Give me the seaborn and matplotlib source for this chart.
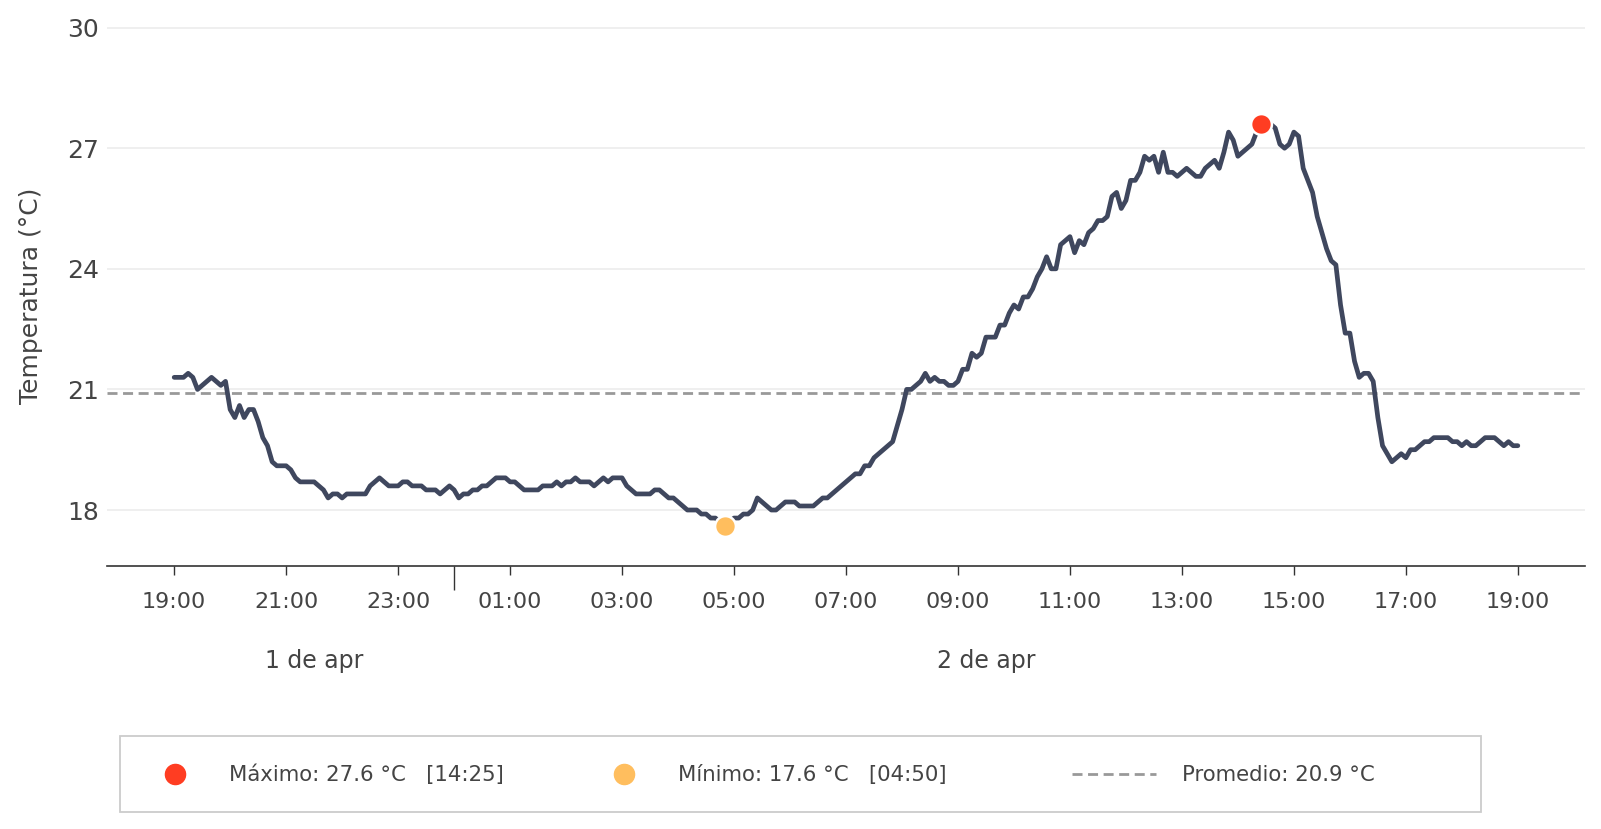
import numpy as np
import pandas as pd
import matplotlib
matplotlib.use("Agg")
import matplotlib.pyplot as plt
import matplotlib.dates as mdates
import matplotlib.transforms as mtransforms
from matplotlib.ticker import FixedLocator
from matplotlib.lines import Line2D
from matplotlib.patches import Rectangle
import seaborn as sns

# ---------------- data (5-minute readings, 1 Apr 19:00 -> 2 Apr 19:00) ----------------
start_time = "2024-04-01 19:00"
t_1900 = [21.3, 21.3, 21.3, 21.4, 21.3, 21.0, 21.1, 21.2, 21.3, 21.2, 21.1, 21.2]
t_2000 = [20.5, 20.3, 20.6, 20.3, 20.5, 20.5, 20.2, 19.8, 19.6, 19.2, 19.1, 19.1]
t_2100 = [19.1, 19.0, 18.8, 18.7, 18.7, 18.7, 18.7, 18.6, 18.5, 18.3, 18.4, 18.4]
t_2200 = [18.3, 18.4, 18.4, 18.4, 18.4, 18.4, 18.6, 18.7, 18.8, 18.7, 18.6, 18.6]
t_2300 = [18.6, 18.7, 18.7, 18.6, 18.6, 18.6, 18.5, 18.5, 18.5, 18.4, 18.5, 18.6]
t_0000 = [18.5, 18.3, 18.4, 18.4, 18.5, 18.5, 18.6, 18.6, 18.7, 18.8, 18.8, 18.8]
t_0100 = [18.7, 18.7, 18.6, 18.5, 18.5, 18.5, 18.5, 18.6, 18.6, 18.6, 18.7, 18.6]
t_0200 = [18.7, 18.7, 18.8, 18.7, 18.7, 18.7, 18.6, 18.7, 18.8, 18.7, 18.8, 18.8]
t_0300 = [18.8, 18.6, 18.5, 18.4, 18.4, 18.4, 18.4, 18.5, 18.5, 18.4, 18.3, 18.3]
t_0400 = [18.2, 18.1, 18.0, 18.0, 18.0, 17.9, 17.9, 17.8, 17.8, 17.7, 17.6, 17.7]
t_0500 = [17.8, 17.8, 17.9, 17.9, 18.0, 18.3, 18.2, 18.1, 18.0, 18.0, 18.1, 18.2]
t_0600 = [18.2, 18.2, 18.1, 18.1, 18.1, 18.1, 18.2, 18.3, 18.3, 18.4, 18.5, 18.6]
t_0700 = [18.7, 18.8, 18.9, 18.9, 19.1, 19.1, 19.3, 19.4, 19.5, 19.6, 19.7, 20.1]
t_0800 = [20.5, 21.0, 21.0, 21.1, 21.2, 21.4, 21.2, 21.3, 21.2, 21.2, 21.1, 21.1]
t_0900 = [21.2, 21.5, 21.5, 21.9, 21.8, 21.9, 22.3, 22.3, 22.3, 22.6, 22.6, 22.9]
t_1000 = [23.1, 23.0, 23.3, 23.3, 23.5, 23.8, 24.0, 24.3, 24.0, 24.0, 24.6, 24.7]
t_1100 = [24.8, 24.4, 24.7, 24.6, 24.9, 25.0, 25.2, 25.2, 25.3, 25.8, 25.9, 25.5]
t_1200 = [25.7, 26.2, 26.2, 26.4, 26.8, 26.7, 26.8, 26.4, 26.9, 26.4, 26.4, 26.3]
t_1300 = [26.4, 26.5, 26.4, 26.3, 26.3, 26.5, 26.6, 26.7, 26.5, 26.9, 27.4, 27.2]
t_1400 = [26.8, 26.9, 27.0, 27.1, 27.4, 27.6, 27.6, 27.6, 27.5, 27.1, 27.0, 27.1]
t_1500 = [27.4, 27.3, 26.5, 26.2, 25.9, 25.3, 24.9, 24.5, 24.2, 24.1, 23.1, 22.4]
t_1600 = [22.4, 21.7, 21.3, 21.4, 21.4, 21.2, 20.3, 19.6, 19.4, 19.2, 19.3, 19.4]
t_1700 = [19.3, 19.5, 19.5, 19.6, 19.7, 19.7, 19.8, 19.8, 19.8, 19.8, 19.7, 19.7]
t_1800 = [19.6, 19.7, 19.6, 19.6, 19.7, 19.8, 19.8, 19.8, 19.7, 19.6, 19.7, 19.6]
t_1900_end = [19.6]

temperatura = (t_1900 + t_2000 + t_2100 + t_2200 + t_2300 + t_0000 + t_0100 + t_0200
               + t_0300 + t_0400 + t_0500 + t_0600 + t_0700 + t_0800 + t_0900 + t_1000
               + t_1100 + t_1200 + t_1300 + t_1400 + t_1500 + t_1600 + t_1700 + t_1800
               + t_1900_end)

day_labels = ["1 de apr", "2 de apr"]

hora = pd.date_range(start_time, periods=len(temperatura), freq="5min")
df = pd.DataFrame({"hora": hora, "temp": temperatura})

i_max = int(df["temp"].idxmax())
i_min = int(df["temp"].idxmin())
t_max, v_max = df["hora"][i_max], df["temp"][i_max]
t_min, v_min = df["hora"][i_min], df["temp"][i_min]
v_avg = df["temp"].mean()

# ---------------- styling ----------------
LINE_C = "#3f475e"
MAX_C = "#FF3D22"
MIN_C = "#FFBE5E"
AVG_C = "#999999"
TXT_C = "#444444"
DASH = (0, (3.6, 2.0))

sns.set_theme(style="white")
plt.rcParams["font.family"] = ["DejaVu Sans"]

W, H = 1601, 829
fig = plt.figure(figsize=(W / 100 + 0.0001, H / 100 + 0.0001), dpi=100)
ax_bot_px, ax_top_px = 566.3, 25.6
ax = fig.add_axes([107 / W, 1 - ax_bot_px / H, (1585 - 107) / W, (ax_bot_px - ax_top_px) / H])

ax.axhline(v_avg, color=AVG_C, lw=2.0, ls=DASH, zorder=1.5)
sns.lineplot(data=df, x="hora", y="temp", ax=ax, color=LINE_C, zorder=2)
main_line = ax.get_lines()[-1]
main_line.set_linewidth(3.4)
main_line.set_solid_joinstyle("round")
main_line.set_solid_capstyle("round")
sns.scatterplot(x=[t_max], y=[v_max], ax=ax, color=MAX_C, s=225, edgecolor="white",
                linewidth=1.8, zorder=4, legend=False)
sns.scatterplot(x=[t_min], y=[v_min], ax=ax, color=MIN_C, s=225, edgecolor="white",
                linewidth=1.8, zorder=4, legend=False)

span = df["hora"].iloc[-1] - df["hora"].iloc[0]
ax.set_xlim(df["hora"].iloc[0] - span * 0.05, df["hora"].iloc[-1] + span * 0.05)
ax.set_ylim(16.6, 30.05)

ax.set_yticks([18, 21, 24, 27, 30])
ax.grid(axis="y", color="#efefef", lw=1.4)
ax.grid(axis="x", visible=False)
ax.set_axisbelow(True)
for s in ["left", "right", "top"]:
    ax.spines[s].set_visible(False)
ax.spines["bottom"].set_color("#333333")
ax.spines["bottom"].set_linewidth(1.2)

ax.xaxis.set_major_locator(mdates.HourLocator(byhour=range(1, 24, 2)))
ax.xaxis.set_major_formatter(mdates.DateFormatter("%H:%M"))
midnight = pd.Timestamp("2024-04-02 00:00")
ax.xaxis.set_minor_locator(FixedLocator([mdates.date2num(midnight)]))
ax.tick_params(axis="x", which="major", bottom=True, length=6.5, width=1.0, color="#333333",
               labelsize=16, labelcolor=TXT_C, pad=12)
ax.tick_params(axis="x", which="minor", bottom=True, length=17, width=1.0, color="#333333")
ax.tick_params(axis="y", length=0, labelsize=18, labelcolor=TXT_C, pad=6)

ax.set_xlabel("")
ax.set_ylabel("Temperatura (°C)", fontsize=18, color=TXT_C, labelpad=17)

# day labels centred under each day's portion
trans = mtransforms.blended_transform_factory(ax.transData, ax.transAxes)
day1_mid = df["hora"].iloc[0] + (midnight - df["hora"].iloc[0]) / 2
day2_mid = midnight + (df["hora"].iloc[-1] - midnight) / 2
for xm, lab in zip([day1_mid, day2_mid], day_labels):
    ax.text(mdates.date2num(xm), -0.176, lab, transform=trans, ha="center", va="center",
            fontsize=17, color=TXT_C)

# ---------------- legend box ----------------
fig.add_artist(Rectangle((119.5 / W, 1 - 812.5 / H), (1480.5 - 119.5) / W, (812.5 - 736) / H,
                         transform=fig.transFigure, fill=False, edgecolor="#cccccc", lw=1.3))
ly = 1 - 774.5 / H
fig.add_artist(Line2D([174.6 / W], [ly], marker="o", ms=14.5, color=MAX_C, ls="none",
                      transform=fig.transFigure))
fig.add_artist(Line2D([624 / W], [ly], marker="o", ms=14.5, color=MIN_C, ls="none",
                      transform=fig.transFigure))
fig.add_artist(Line2D([1072 / W, 1156 / W], [ly, ly], color=AVG_C, lw=2.0, ls=DASH,
                      transform=fig.transFigure))
lab_max = f"Máximo: {v_max:.1f} °C   [{t_max:%H:%M}]"
lab_min = f"Mínimo: {v_min:.1f} °C   [{t_min:%H:%M}]"
lab_avg = f"Promedio: {v_avg:.1f} °C"
for xpx, lab in zip([228.7, 678, 1182], [lab_max, lab_min, lab_avg]):
    fig.text(xpx / W, ly, lab, ha="left", va="center", fontsize=15.3, color=TXT_C)

fig.savefig("out.png", dpi=100)
